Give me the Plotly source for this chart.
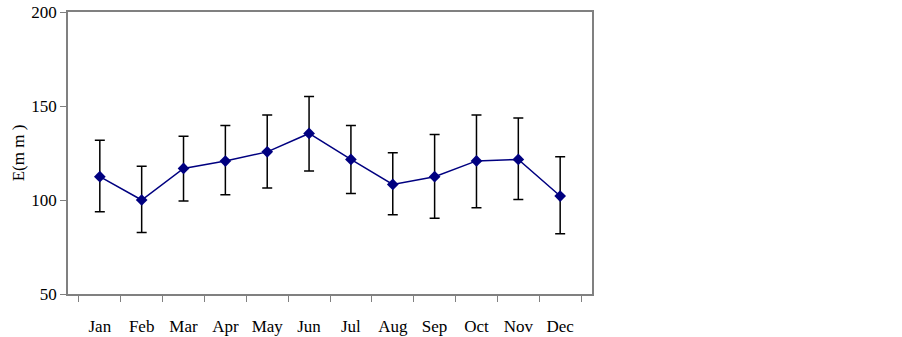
import plotly.graph_objects as go

months = ["Jan", "Feb", "Mar", "Apr", "May", "Jun", "Jul", "Aug", "Sep", "Oct", "Nov", "Dec"]
mean_e = [112.4, 100.0, 116.8, 120.7, 125.6, 135.4, 121.6, 108.3, 112.4, 120.8, 121.6, 102.1]
upper = [131.8, 118.0, 133.9, 139.6, 145.2, 155.0, 139.6, 125.1, 134.8, 145.2, 143.6, 123.0]
lower = [93.8, 82.7, 99.5, 102.8, 106.4, 115.4, 103.5, 92.2, 90.3, 95.9, 100.2, 82.0]

err_plus = [u - m for u, m in zip(upper, mean_e)]
err_minus = [m - l for m, l in zip(mean_e, lower)]

fig = go.Figure()
fig.add_trace(go.Scatter(
    x=months, y=mean_e, mode="lines+markers",
    line=dict(color="#000080", width=1.5),
    marker=dict(symbol="diamond", size=9, color="#000080"),
    error_y=dict(type="data", symmetric=False, array=err_plus, arrayminus=err_minus,
                 color="black", thickness=1.5, width=5),
    showlegend=False,
))

font = dict(family="Liberation Serif, Times New Roman, serif", size=17, color="black")
fig.update_layout(
    width=902, height=337,
    margin=dict(l=68, r=310, t=12, b=43),
    paper_bgcolor="white", plot_bgcolor="white",
    font=font,
    xaxis=dict(
        type="category", tickson="boundaries", ticks="outside", ticklen=6,
        tickcolor="#808080", showline=True, linecolor="#808080", linewidth=1.5,
        mirror=True, showgrid=False, ticklabelstandoff=16, automargin=False,
        tickfont=dict(size=17),
    ),
    yaxis=dict(
        range=[50, 200], tickvals=[50, 100, 150, 200], ticks="outside", ticklen=6,
        tickcolor="#808080", showline=True, linecolor="#808080", linewidth=1.5,
        mirror=True, showgrid=False, zeroline=False, automargin=False,
        title=dict(text="E(m m )", standoff=2, font=dict(size=17)),
        tickfont=dict(size=17),
    ),
)

fig.write_html("out.html", config={"displayModeBar": False})

with open("out.html", "r", encoding="utf-8") as f:
    html = f.read()
html = html.replace("<head>", "<head><style>html,body{margin:0;padding:0;overflow:hidden}</style>", 1)
with open("out.html", "w", encoding="utf-8") as f:
    f.write(html)
